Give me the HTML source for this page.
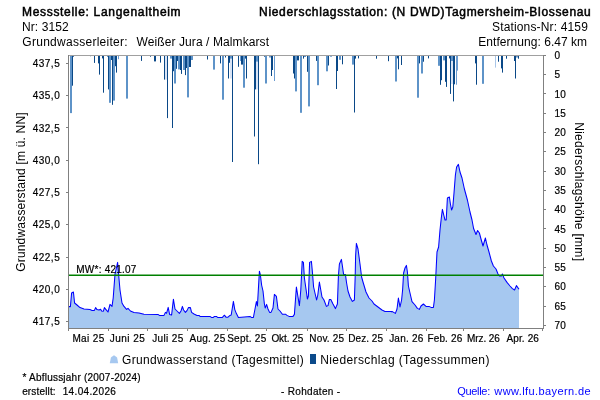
<!DOCTYPE html>
<html><head><meta charset="utf-8"><title>Grundwasserstand Langenaltheim</title>
<style>
html,body{margin:0;padding:0;background:#fff}
body{width:600px;height:400px;overflow:hidden;font-family:"Liberation Sans",Arial,sans-serif}
svg{display:block}
text{font-family:"Liberation Sans",Arial,sans-serif;fill:#000}
.h{font-size:12px}.hb{font-size:12px;stroke:#000;stroke-width:0.5px}.tk{font-size:10px}.xk{font-size:10px}
.tk,.xk,.ft{stroke:#000;stroke-width:0.2px}
.lg{font-size:12px}.ft{font-size:10px}.fq{font-size:11px;fill:#0000ff}.ax{font-size:12px}
</style></head><body>
<svg width="600" height="400" viewBox="0 0 600 400">
<rect width="600" height="400" fill="#fff"/>
<text x="21.99" y="16" class="hb" textLength="158.61" lengthAdjust="spacing">Messstelle: Langenaltheim</text>
<text x="21.93" y="31" class="h" textLength="46.85" lengthAdjust="spacing">Nr: 3152</text>
<text x="22.36" y="46" class="h" textLength="105.25" lengthAdjust="spacing">Grundwasserleiter:</text>
<text x="136.59" y="46" class="h" textLength="132.41" lengthAdjust="spacing">Weißer Jura / Malmkarst</text>
<text x="259.07" y="16" class="hb" textLength="331.74" lengthAdjust="spacing">Niederschlagsstation: (N DWD)Tagmersheim-Blossenau</text>
<text x="491.99" y="31" class="h" textLength="95.84" lengthAdjust="spacing">Stations-Nr: 4159</text>
<text x="478.26" y="46" class="h" textLength="108.84" lengthAdjust="spacing">Entfernung: 6.47 km</text>
<!-- precipitation bars -->
<g>
<rect x="165" y="55.5" width="2" height="24.1" fill="#d9e4f5"/>
<rect x="230" y="55.5" width="2" height="23" fill="#d9e4f5"/>
<rect x="256" y="55.5" width="2" height="33.9" fill="#d9e4f5"/>
<rect x="451" y="55.5" width="2" height="28.5" fill="#d9e4f5"/>
<rect x="495" y="55.5" width="1" height="12.1" fill="#a9c6e8"/>
<rect x="70" y="55.5" width="2" height="57.6" fill="#5e93c8"/>
<rect x="109" y="55.5" width="2" height="47.3" fill="#5e93c8"/>
<rect x="113" y="55.5" width="2" height="45.1" fill="#5e93c8"/>
<rect x="126" y="55.5" width="2" height="43.1" fill="#5e93c8"/>
<rect x="170" y="55.5" width="2" height="3.1" fill="#5e93c8"/>
<rect x="174" y="55.5" width="2" height="28" fill="#5e93c8"/>
<rect x="178" y="55.5" width="2" height="13.9" fill="#5e93c8"/>
<rect x="183" y="55.5" width="2" height="14.5" fill="#5e93c8"/>
<rect x="187" y="55.5" width="2" height="41.9" fill="#5e93c8"/>
<rect x="191" y="55.5" width="2" height="4.5" fill="#5e93c8"/>
<rect x="213" y="55.5" width="2" height="14.1" fill="#5e93c8"/>
<rect x="222" y="55.5" width="2" height="44.2" fill="#5e93c8"/>
<rect x="230" y="55.5" width="2" height="3.1" fill="#5e93c8"/>
<rect x="243" y="55.5" width="2" height="32.2" fill="#5e93c8"/>
<rect x="256" y="55.5" width="2" height="6.1" fill="#5e93c8"/>
<rect x="265" y="55.5" width="2" height="28" fill="#5e93c8"/>
<rect x="295" y="55.5" width="2" height="35.9" fill="#5e93c8"/>
<rect x="300" y="55.5" width="2" height="57.3" fill="#5e93c8"/>
<rect x="304" y="55.5" width="2" height="1.5" fill="#5e93c8"/>
<rect x="308" y="55.5" width="2" height="50.9" fill="#5e93c8"/>
<rect x="317" y="55.5" width="2" height="29.7" fill="#5e93c8"/>
<rect x="326" y="55.5" width="2" height="15.8" fill="#5e93c8"/>
<rect x="330" y="55.5" width="2" height="1.2" fill="#5e93c8"/>
<rect x="339" y="55.5" width="2" height="4.3" fill="#5e93c8"/>
<rect x="352" y="55.5" width="2" height="9.1" fill="#5e93c8"/>
<rect x="395" y="55.5" width="2" height="26" fill="#5e93c8"/>
<rect x="417" y="55.5" width="2" height="42.2" fill="#5e93c8"/>
<rect x="421" y="55.5" width="2" height="18" fill="#5e93c8"/>
<rect x="438" y="55.5" width="2" height="10.3" fill="#5e93c8"/>
<rect x="443" y="55.5" width="2" height="4.9" fill="#5e93c8"/>
<rect x="451" y="55.5" width="2" height="5.5" fill="#5e93c8"/>
<rect x="482" y="55.5" width="2" height="28.3" fill="#5e93c8"/>
<rect x="269.3" y="55.5" width="1.4" height="2" fill="#2e6aa8"/>
<rect x="516.3" y="55.5" width="1.4" height="2" fill="#2e6aa8"/>
<rect x="107" y="55.5" width="1" height="1.5" fill="#6a9bd0"/>
<rect x="118" y="55.5" width="1" height="3.7" fill="#6a9bd0"/>
<rect x="240" y="55.5" width="1" height="5.5" fill="#6a9bd0"/>
<rect x="274" y="55.5" width="1" height="25.5" fill="#6a9bd0"/>
<rect x="456" y="55.5" width="1" height="29.2" fill="#6a9bd0"/>
<rect x="457" y="55.5" width="1" height="15.1" fill="#6a9bd0"/>
<rect x="72" y="55.5" width="1" height="30.2" fill="#0a4887"/>
<rect x="73" y="55.5" width="1" height="1.2" fill="#0a4887"/>
<rect x="90" y="55.5" width="1" height="0.7" fill="#0a4887"/>
<rect x="94" y="55.5" width="1" height="7.4" fill="#0a4887"/>
<rect x="98" y="55.5" width="1" height="7.9" fill="#0a4887"/>
<rect x="99" y="55.5" width="1" height="19.1" fill="#0a4887"/>
<rect x="102" y="55.5" width="1" height="2.9" fill="#0a4887"/>
<rect x="103" y="55.5" width="1" height="37.2" fill="#0a4887"/>
<rect x="108" y="55.5" width="1" height="33.9" fill="#0a4887"/>
<rect x="111" y="55.5" width="1" height="4.5" fill="#0a4887"/>
<rect x="112" y="55.5" width="1" height="49.3" fill="#0a4887"/>
<rect x="115" y="55.5" width="1" height="10.7" fill="#0a4887"/>
<rect x="116" y="55.5" width="1" height="17.1" fill="#0a4887"/>
<rect x="141" y="55.5" width="1" height="5.4" fill="#0a4887"/>
<rect x="150" y="55.5" width="1" height="1.2" fill="#0a4887"/>
<rect x="154" y="55.5" width="1" height="5.9" fill="#0a4887"/>
<rect x="155" y="55.5" width="1" height="5.9" fill="#0a4887"/>
<rect x="160" y="55.5" width="1" height="7.1" fill="#0a4887"/>
<rect x="164" y="55.5" width="1" height="24.1" fill="#0a4887"/>
<rect x="167" y="55.5" width="1" height="62.6" fill="#0a4887"/>
<rect x="172" y="55.5" width="1" height="72.5" fill="#0a4887"/>
<rect x="173" y="55.5" width="1" height="15.7" fill="#0a4887"/>
<rect x="176" y="55.5" width="1" height="13.3" fill="#0a4887"/>
<rect x="177" y="55.5" width="1" height="5.5" fill="#0a4887"/>
<rect x="180" y="55.5" width="1" height="14.5" fill="#0a4887"/>
<rect x="181" y="55.5" width="1" height="18.4" fill="#0a4887"/>
<rect x="185" y="55.5" width="1" height="19.6" fill="#0a4887"/>
<rect x="186" y="55.5" width="1" height="12.5" fill="#0a4887"/>
<rect x="189" y="55.5" width="1" height="11.5" fill="#0a4887"/>
<rect x="190" y="55.5" width="1" height="11.5" fill="#0a4887"/>
<rect x="207" y="55.5" width="1" height="4" fill="#0a4887"/>
<rect x="220" y="55.5" width="1" height="7.9" fill="#0a4887"/>
<rect x="225" y="55.5" width="1" height="2" fill="#0a4887"/>
<rect x="228" y="55.5" width="1" height="23" fill="#0a4887"/>
<rect x="229" y="55.5" width="1" height="7.3" fill="#0a4887"/>
<rect x="232" y="55.5" width="1" height="106.5" fill="#0a4887"/>
<rect x="238" y="55.5" width="1" height="11.3" fill="#0a4887"/>
<rect x="241" y="55.5" width="1" height="9.1" fill="#0a4887"/>
<rect x="242" y="55.5" width="1" height="9.1" fill="#0a4887"/>
<rect x="245" y="55.5" width="1" height="3.1" fill="#0a4887"/>
<rect x="264" y="55.5" width="1" height="1.2" fill="#0a4887"/>
<rect x="246" y="55.5" width="1" height="23" fill="#0a4887"/>
<rect x="254" y="55.5" width="1" height="81" fill="#0a4887"/>
<rect x="255" y="55.5" width="1" height="33.9" fill="#0a4887"/>
<rect x="258" y="55.5" width="1" height="108.7" fill="#0a4887"/>
<rect x="271" y="55.5" width="1" height="20.5" fill="#0a4887"/>
<rect x="272" y="55.5" width="1" height="14.5" fill="#0a4887"/>
<rect x="293" y="55.5" width="1" height="18" fill="#0a4887"/>
<rect x="294" y="55.5" width="1" height="23" fill="#0a4887"/>
<rect x="297" y="55.5" width="1" height="4.9" fill="#0a4887"/>
<rect x="298" y="55.5" width="1" height="4.9" fill="#0a4887"/>
<rect x="303" y="55.5" width="1" height="3.1" fill="#0a4887"/>
<rect x="307" y="55.5" width="1" height="16.3" fill="#0a4887"/>
<rect x="316" y="55.5" width="1" height="5.4" fill="#0a4887"/>
<rect x="328" y="55.5" width="1" height="10" fill="#0a4887"/>
<rect x="336" y="55.5" width="1" height="33.5" fill="#0a4887"/>
<rect x="337" y="55.5" width="1" height="15.5" fill="#0a4887"/>
<rect x="342" y="55.5" width="1" height="8.8" fill="#0a4887"/>
<rect x="354" y="55.5" width="1" height="57" fill="#0a4887"/>
<rect x="355" y="55.5" width="1" height="3.1" fill="#0a4887"/>
<rect x="358" y="55.5" width="1" height="2.9" fill="#0a4887"/>
<rect x="376" y="55.5" width="1" height="3.2" fill="#0a4887"/>
<rect x="388" y="55.5" width="1" height="5.7" fill="#0a4887"/>
<rect x="397" y="55.5" width="1" height="2.9" fill="#0a4887"/>
<rect x="398" y="55.5" width="1" height="13.8" fill="#0a4887"/>
<rect x="401" y="55.5" width="1" height="9.5" fill="#0a4887"/>
<rect x="419" y="55.5" width="1" height="7.9" fill="#0a4887"/>
<rect x="423" y="55.5" width="1" height="6.2" fill="#0a4887"/>
<rect x="428" y="55.5" width="1" height="2.9" fill="#0a4887"/>
<rect x="440" y="55.5" width="1" height="29.3" fill="#0a4887"/>
<rect x="441" y="55.5" width="1" height="24.7" fill="#0a4887"/>
<rect x="445" y="55.5" width="1" height="26.3" fill="#0a4887"/>
<rect x="446" y="55.5" width="1" height="31.4" fill="#0a4887"/>
<rect x="449" y="55.5" width="1" height="2.9" fill="#0a4887"/>
<rect x="450" y="55.5" width="1" height="38.4" fill="#0a4887"/>
<rect x="453" y="55.5" width="1" height="45.9" fill="#0a4887"/>
<rect x="454" y="55.5" width="1" height="28.8" fill="#0a4887"/>
<rect x="475" y="55.5" width="1" height="7.9" fill="#0a4887"/>
<rect x="476" y="55.5" width="1" height="29.2" fill="#0a4887"/>
<rect x="498" y="55.5" width="1" height="6.2" fill="#0a4887"/>
<rect x="501" y="55.5" width="1" height="12.9" fill="#0a4887"/>
<rect x="502" y="55.5" width="1" height="17.1" fill="#0a4887"/>
<rect x="506" y="55.5" width="1" height="3.2" fill="#0a4887"/>
<rect x="514" y="55.5" width="1" height="5.5" fill="#0a4887"/>
<rect x="515" y="55.5" width="1" height="23" fill="#0a4887"/>
<rect x="518" y="55.5" width="1" height="3.2" fill="#0a4887"/>
</g>
<!-- groundwater area -->
<path d="M69,328 L68.8,306.6 L70.4,306.6 L71.6,293 L73.4,292 L74.6,303 L77,305 L80,307.6 L84,309 L90,309.6 L92,310.4 L94.4,310.4 L95.6,307.6 L97,309.6 L99,310 L100.6,309.2 L101.6,311 L103.4,311.2 L104.4,307.6 L106,309.6 L108,312 L110,304.4 L112,306.4 L113.2,298 L115,274 L116.4,268 L117.6,262.4 L118.4,272 L120,290 L122,303 L124,306.4 L126.6,309.4 L128,308.4 L130.4,311 L134,312.4 L139,313 L144,314.2 L158,314.4 L159.4,315.4 L164,315.4 L165.4,312.4 L166.6,313.2 L168.2,307.4 L169.6,314.4 L171.6,315 L173.4,299.2 L175,309 L177,311 L179.4,313.4 L181,311 L182.4,306.4 L183.6,310 L185.4,312.4 L187,310.6 L188.4,307.6 L190.4,307.6 L191.6,312.4 L194,314 L197,315.4 L199,315.4 L200,316.4 L210,316.4 L211.4,317.4 L213.4,317.4 L214.4,316.4 L216.4,316.4 L217.6,317.4 L222.4,317.4 L224.4,315.2 L226,317.2 L228,317.2 L230,315.4 L231.2,315 L233.4,301.4 L234.8,309.6 L236.4,313.6 L238.4,317.4 L250,316.4 L251.4,317.4 L253.4,317.4 L255,309 L256.4,301.6 L257.4,306 L259.4,271.2 L260.4,275 L261.6,285 L263,291 L264.4,304 L265.2,308 L266.6,304.4 L268,309 L269.6,312.4 L271,312.4 L273,308 L274.4,294.4 L276.4,296.4 L278,309 L280,311 L282.4,314.2 L285.4,314.2 L287,315.4 L289,316.4 L293,316.4 L294.4,314.4 L296.4,287 L298,297 L299.4,305.6 L300.8,290 L302.2,261.4 L303.4,262.4 L304.4,278 L306,289 L307.4,299 L308.4,296 L309.6,262.4 L311.4,261.4 L312.4,272 L313.6,287 L315.2,294 L316.6,300 L317.8,295 L319.4,282 L320.8,290 L322,297 L324,300 L326.4,306.4 L328,305.6 L329.4,299.4 L330.8,299.4 L333,304 L335.4,308.6 L337.4,304 L338.4,276 L339.4,264 L341.4,259.4 L342.4,266 L343.6,274.4 L345.4,274.4 L346.6,283 L348,291 L350,297 L352.4,301.4 L354.4,300 L355.2,276 L355.6,256 L356.4,243.4 L358,249 L360,264 L361.6,277 L363,282 L366,292 L369,298 L372,301 L374,304 L378,307 L382,310 L385,311.4 L391,311.6 L392.4,311.6 L395.4,313.4 L397,309 L398.4,298 L400,307 L401.6,300 L402.6,290 L403.6,273 L405,268 L406.4,265.4 L407.4,272 L408.4,286 L410,293 L412,301.6 L415,305 L417.4,308.4 L419.4,309.4 L421,306 L423.4,304 L426,306.4 L429,306.4 L431,307.4 L433.4,307.4 L434.4,300 L435.6,280 L436.3,266 L437,252 L438.6,247 L440,230 L441.4,217 L442.4,209.4 L444,216 L445,220 L446.2,220 L447.4,198 L449.4,197 L450.4,204 L451.6,210 L452.8,207 L454,193 L455.4,175 L456.6,167 L458.4,164.4 L460,172 L462,178 L464.4,189 L467.4,200 L470,212 L472,220 L473.6,228.5 L476,234.5 L477.6,230.5 L479.4,233 L481,239 L483,246 L485.4,238 L487,245 L489,252 L491.4,261 L493.4,266 L496,269 L498,274 L499.4,276 L501.4,276 L502.4,274 L504,278 L507,282.4 L510,286 L512.4,288.6 L514.6,290 L516.4,285.6 L519,289.3 L519,328 Z" fill="#a6c8f0"/>
<polyline points="68.8,306.6 70.4,306.6 71.6,293 73.4,292 74.6,303 77,305 80,307.6 84,309 90,309.6 92,310.4 94.4,310.4 95.6,307.6 97,309.6 99,310 100.6,309.2 101.6,311 103.4,311.2 104.4,307.6 106,309.6 108,312 110,304.4 112,306.4 113.2,298 115,274 116.4,268 117.6,262.4 118.4,272 120,290 122,303 124,306.4 126.6,309.4 128,308.4 130.4,311 134,312.4 139,313 144,314.2 158,314.4 159.4,315.4 164,315.4 165.4,312.4 166.6,313.2 168.2,307.4 169.6,314.4 171.6,315 173.4,299.2 175,309 177,311 179.4,313.4 181,311 182.4,306.4 183.6,310 185.4,312.4 187,310.6 188.4,307.6 190.4,307.6 191.6,312.4 194,314 197,315.4 199,315.4 200,316.4 210,316.4 211.4,317.4 213.4,317.4 214.4,316.4 216.4,316.4 217.6,317.4 222.4,317.4 224.4,315.2 226,317.2 228,317.2 230,315.4 231.2,315 233.4,301.4 234.8,309.6 236.4,313.6 238.4,317.4 250,316.4 251.4,317.4 253.4,317.4 255,309 256.4,301.6 257.4,306 259.4,271.2 260.4,275 261.6,285 263,291 264.4,304 265.2,308 266.6,304.4 268,309 269.6,312.4 271,312.4 273,308 274.4,294.4 276.4,296.4 278,309 280,311 282.4,314.2 285.4,314.2 287,315.4 289,316.4 293,316.4 294.4,314.4 296.4,287 298,297 299.4,305.6 300.8,290 302.2,261.4 303.4,262.4 304.4,278 306,289 307.4,299 308.4,296 309.6,262.4 311.4,261.4 312.4,272 313.6,287 315.2,294 316.6,300 317.8,295 319.4,282 320.8,290 322,297 324,300 326.4,306.4 328,305.6 329.4,299.4 330.8,299.4 333,304 335.4,308.6 337.4,304 338.4,276 339.4,264 341.4,259.4 342.4,266 343.6,274.4 345.4,274.4 346.6,283 348,291 350,297 352.4,301.4 354.4,300 355.2,276 355.6,256 356.4,243.4 358,249 360,264 361.6,277 363,282 366,292 369,298 372,301 374,304 378,307 382,310 385,311.4 391,311.6 392.4,311.6 395.4,313.4 397,309 398.4,298 400,307 401.6,300 402.6,290 403.6,273 405,268 406.4,265.4 407.4,272 408.4,286 410,293 412,301.6 415,305 417.4,308.4 419.4,309.4 421,306 423.4,304 426,306.4 429,306.4 431,307.4 433.4,307.4 434.4,300 435.6,280 436.3,266 437,252 438.6,247 440,230 441.4,217 442.4,209.4 444,216 445,220 446.2,220 447.4,198 449.4,197 450.4,204 451.6,210 452.8,207 454,193 455.4,175 456.6,167 458.4,164.4 460,172 462,178 464.4,189 467.4,200 470,212 472,220 473.6,228.5 476,234.5 477.6,230.5 479.4,233 481,239 483,246 485.4,238 487,245 489,252 491.4,261 493.4,266 496,269 498,274 499.4,276 501.4,276 502.4,274 504,278 507,282.4 510,286 512.4,288.6 514.6,290 516.4,285.6 519,289.3" fill="none" stroke="#0000ff" stroke-width="1.05" stroke-linejoin="round"/>
<!-- mean line -->
<line x1="69" x2="543" y1="275.3" y2="275.3" stroke="#008000" stroke-width="1.45"/>
<text x="76.31" y="272.8" class="tk" textLength="60.02" lengthAdjust="spacing">MW*: 421.07</text>
<!-- frame -->
<line x1="69" x2="544" y1="55.5" y2="55.5" stroke="#a0a0a0"/>
<line x1="68.5" x2="68.5" y1="55" y2="329" stroke="#808080"/>
<line x1="543.5" x2="543.5" y1="55" y2="329" stroke="#808080"/>
<line x1="68" x2="544" y1="328.5" y2="328.5" stroke="#808080"/>
<line x1="66" x2="68" y1="63.5" y2="63.5" stroke="#808080"/>
<text x="32.7" y="67.1" class="tk" textLength="27" lengthAdjust="spacing">437,5</text>
<line x1="66" x2="68" y1="95.5" y2="95.5" stroke="#808080"/>
<text x="32.7" y="99.3" class="tk" textLength="27" lengthAdjust="spacing">435,0</text>
<line x1="66" x2="68" y1="127.5" y2="127.5" stroke="#808080"/>
<text x="32.7" y="131.6" class="tk" textLength="27" lengthAdjust="spacing">432,5</text>
<line x1="66" x2="68" y1="160.5" y2="160.5" stroke="#808080"/>
<text x="32.7" y="163.8" class="tk" textLength="27" lengthAdjust="spacing">430,0</text>
<line x1="66" x2="68" y1="192.5" y2="192.5" stroke="#808080"/>
<text x="32.7" y="196.1" class="tk" textLength="27" lengthAdjust="spacing">427,5</text>
<line x1="66" x2="68" y1="224.5" y2="224.5" stroke="#808080"/>
<text x="32.7" y="228.3" class="tk" textLength="27" lengthAdjust="spacing">425,0</text>
<line x1="66" x2="68" y1="257.5" y2="257.5" stroke="#808080"/>
<text x="32.7" y="260.6" class="tk" textLength="27" lengthAdjust="spacing">422,5</text>
<line x1="66" x2="68" y1="289.5" y2="289.5" stroke="#808080"/>
<text x="32.7" y="292.9" class="tk" textLength="27" lengthAdjust="spacing">420,0</text>
<line x1="66" x2="68" y1="321.5" y2="321.5" stroke="#808080"/>
<text x="32.7" y="325.1" class="tk" textLength="27" lengthAdjust="spacing">417,5</text>
<line x1="544" x2="546" y1="55.5" y2="55.5" stroke="#808080"/>
<text x="554.5" y="59" class="tk" letter-spacing="0.15">0</text>
<line x1="544" x2="546" y1="74.5" y2="74.5" stroke="#808080"/>
<text x="554.5" y="78.3" class="tk" letter-spacing="0.15">5</text>
<line x1="544" x2="546" y1="93.5" y2="93.5" stroke="#808080"/>
<text x="554.5" y="97.6" class="tk" letter-spacing="0.15">10</text>
<line x1="544" x2="546" y1="113.5" y2="113.5" stroke="#808080"/>
<text x="554.5" y="116.8" class="tk" letter-spacing="0.15">15</text>
<line x1="544" x2="546" y1="132.5" y2="132.5" stroke="#808080"/>
<text x="554.5" y="136.1" class="tk" letter-spacing="0.15">20</text>
<line x1="544" x2="546" y1="151.5" y2="151.5" stroke="#808080"/>
<text x="554.5" y="155.4" class="tk" letter-spacing="0.15">25</text>
<line x1="544" x2="546" y1="171.5" y2="171.5" stroke="#808080"/>
<text x="554.5" y="174.7" class="tk" letter-spacing="0.15">30</text>
<line x1="544" x2="546" y1="190.5" y2="190.5" stroke="#808080"/>
<text x="554.5" y="194" class="tk" letter-spacing="0.15">35</text>
<line x1="544" x2="546" y1="209.5" y2="209.5" stroke="#808080"/>
<text x="554.5" y="213.2" class="tk" letter-spacing="0.15">40</text>
<line x1="544" x2="546" y1="228.5" y2="228.5" stroke="#808080"/>
<text x="554.5" y="232.5" class="tk" letter-spacing="0.15">45</text>
<line x1="544" x2="546" y1="248.5" y2="248.5" stroke="#808080"/>
<text x="554.5" y="251.8" class="tk" letter-spacing="0.15">50</text>
<line x1="544" x2="546" y1="267.5" y2="267.5" stroke="#808080"/>
<text x="554.5" y="271.1" class="tk" letter-spacing="0.15">55</text>
<line x1="544" x2="546" y1="286.5" y2="286.5" stroke="#808080"/>
<text x="554.5" y="290.4" class="tk" letter-spacing="0.15">60</text>
<line x1="544" x2="546" y1="306.5" y2="306.5" stroke="#808080"/>
<text x="554.5" y="309.6" class="tk" letter-spacing="0.15">65</text>
<line x1="544" x2="546" y1="325.5" y2="325.5" stroke="#808080"/>
<text x="554.5" y="328.9" class="tk" letter-spacing="0.15">70</text>
<line x1="68.5" x2="68.5" y1="329" y2="331" stroke="#808080"/>
<line x1="108.5" x2="108.5" y1="329" y2="331" stroke="#808080"/>
<line x1="147.5" x2="147.5" y1="329" y2="331" stroke="#808080"/>
<line x1="187.5" x2="187.5" y1="329" y2="331" stroke="#808080"/>
<line x1="227.5" x2="227.5" y1="329" y2="331" stroke="#808080"/>
<line x1="266.5" x2="266.5" y1="329" y2="331" stroke="#808080"/>
<line x1="307.5" x2="307.5" y1="329" y2="331" stroke="#808080"/>
<line x1="346.5" x2="346.5" y1="329" y2="331" stroke="#808080"/>
<line x1="386.5" x2="386.5" y1="329" y2="331" stroke="#808080"/>
<line x1="426.5" x2="426.5" y1="329" y2="331" stroke="#808080"/>
<line x1="463.5" x2="463.5" y1="329" y2="331" stroke="#808080"/>
<line x1="503.5" x2="503.5" y1="329" y2="331" stroke="#808080"/>
<line x1="542.5" x2="542.5" y1="329" y2="331" stroke="#808080"/>
<text x="72.40" y="341.7" class="xk" textLength="31.79" lengthAdjust="spacing">Mai 25</text>
<text x="109.78" y="341.7" class="xk" textLength="35.01" lengthAdjust="spacing">Juni 25</text>
<text x="152.15" y="341.7" class="xk" textLength="31.04" lengthAdjust="spacing">Juli 25</text>
<text x="189.51" y="341.7" class="xk" textLength="35.69" lengthAdjust="spacing">Aug. 25</text>
<text x="227.20" y="341.7" class="xk" textLength="39.00" lengthAdjust="spacing">Sept. 25</text>
<text x="271.40" y="341.7" class="xk" textLength="31.79" lengthAdjust="spacing">Okt. 25</text>
<text x="309.27" y="341.7" class="xk" textLength="34.76" lengthAdjust="spacing">Nov. 25</text>
<text x="348.27" y="341.7" class="xk" textLength="34.76" lengthAdjust="spacing">Dez. 25</text>
<text x="389.15" y="341.7" class="xk" textLength="34.07" lengthAdjust="spacing">Jan. 26</text>
<text x="427.40" y="341.7" class="xk" textLength="34.86" lengthAdjust="spacing">Feb. 26</text>
<text x="466.96" y="341.7" class="xk" textLength="32.94" lengthAdjust="spacing">Mrz. 26</text>
<text x="506.51" y="341.7" class="xk" textLength="32.39" lengthAdjust="spacing">Apr. 26</text>
<text transform="translate(25,271.8) rotate(-90)" class="ax" textLength="159.4" lengthAdjust="spacing">Grundwasserstand [m ü. NN]</text>
<text transform="translate(575,122.2) rotate(90)" class="ax" textLength="138.8" lengthAdjust="spacing">Niederschlagshöhe [mm]</text>
<!-- legend -->
<path d="M109.8,363.2 L110.9,357.6 L112.2,356.5 L114,355.2 L115.8,356.5 L117.1,357.6 L118.2,363.2 Z" fill="#a6c8f0"/>
<text x="122.10" y="364" class="lg" textLength="181.67" lengthAdjust="spacing">Grundwasserstand (Tagesmittel)</text>
<rect x="310" y="354" width="6" height="10" fill="#0b4a8a"/>
<text x="320.26" y="364" class="lg" textLength="169.14" lengthAdjust="spacing">Niederschlag (Tagessummen)</text>
<text x="22.43" y="381.4" class="ft" textLength="118.25" lengthAdjust="spacing">* Abflussjahr (2007-2024)</text>
<text x="22.14" y="394.5" class="ft" textLength="33.46" lengthAdjust="spacing">erstellt:</text>
<text x="62.70" y="394.5" class="ft" textLength="53.22" lengthAdjust="spacing">14.04.2026</text>
<text x="281.01" y="394.6" class="ft" textLength="59.12" lengthAdjust="spacing">- Rohdaten -</text>
<text x="457.21" y="394.6" class="fq" textLength="33.01" lengthAdjust="spacing">Quelle:</text>
<text x="494.37" y="394.6" class="fq" textLength="96.23" lengthAdjust="spacing">www.lfu.bayern.de</text>
</svg>
</body></html>
